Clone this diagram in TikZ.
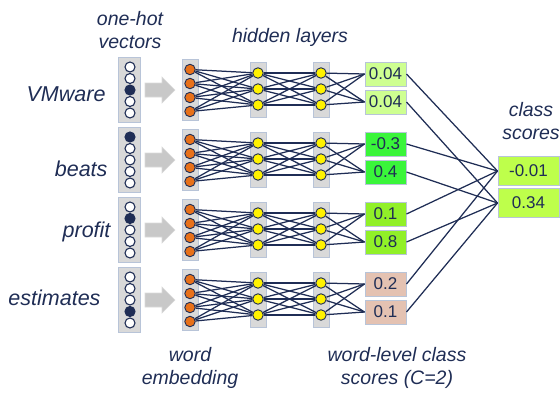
\documentclass[tikz,border=0pt]{standalone}
\usepackage{fontspec}
\setmainfont{Liberation Sans}
\usetikzlibrary{positioning}

\definecolor{ink}{RGB}{31,45,85}
\definecolor{colbg}{RGB}{217,217,217}
\definecolor{colrim}{RGB}{184,196,216}
\definecolor{embfill}{RGB}{232,113,26}
\definecolor{arrowgray}{RGB}{200,200,200}
\definecolor{scpale}{RGB}{206,255,145}
\definecolor{scbright}{RGB}{58,245,58}
\definecolor{scmid}{RGB}{145,240,40}
\definecolor{scsalmon}{RGB}{228,194,178}
\definecolor{sclime}{RGB}{190,255,75}

\tikzset{
  col/.style={draw=colrim, fill=colbg, line width=1pt},
  onehot/.style={circle, draw=ink, fill=white, line width=1.1pt, inner sep=0pt, minimum size=10pt},
  hot/.style={onehot, fill=ink},
  emb/.style={circle, draw=ink, fill=embfill, line width=0.9pt, inner sep=0pt, minimum size=10.5pt},
  hid/.style={emb, fill=yellow},
  score/.style={draw=colrim, line width=1pt, minimum width=41pt, minimum height=24pt, inner sep=0pt,
    text=ink, font=\fontsize{17}{17}\selectfont},
  headtext/.style={text=ink, align=center, font=\fontsize{19.5}{23}\selectfont\itshape},
  wordtext/.style={text=ink, anchor=base east, font=\fontsize{21.5}{24}\selectfont\itshape},
  wire/.style={draw=ink, line width=1.25pt},
  arrowbody/.style={fill=arrowgray, draw=colbg, line width=0.6pt},
}

\begin{document}
\begin{tikzpicture}[x=1pt,y=-1pt]
  \useasboundingbox (0,0) rectangle (560,394);

  % headings
  \node[headtext] (tOneHot) at (130,30) {one-hot\\vectors};
  \node[headtext] (tHidden) at (290,37) {hidden layers};
  \node[headtext] (tClass) at (531,121) {class\\scores};
  \node[headtext] (tEmb) at (190,368) {word\\embedding};
  \node[headtext] (tLevel) at (397,368) {word-level class\\scores (C=2)};

  % words
  \node[wordtext] (wVM) at (109,101) {VMware};
  \node[wordtext] (wBeats) at (111,176) {beats};
  \node[wordtext] (wProfit) at (114,237) {profit};
  \node[wordtext] (wEst) at (104,305) {estimates};

  % sentence-level class scores
  \node[score, fill=sclime, minimum width=61pt, minimum height=29pt] (cls1) at (528.5,171) {-0.01};
  \node[score, fill=sclime, minimum width=61pt, minimum height=29pt, below=2pt of cls1] (cls2) {0.34};

  % one network per word
  \foreach \r/\hot/\sa/\sb/\sc in {0/3/0.04/0.04/scpale, 1/1/-0.3/0.4/scbright,
                                   2/2/0.1/0.8/scmid, 3/4/0.2/0.1/scsalmon}{
    \begin{scope}[shift={(0,70*\r)}]
      \node[col, minimum width=22pt, minimum height=65pt] (ohbox\r) at (129.5,89.5) {};
      \foreach \i in {1,...,5}{
        \ifnum\i=\hot \def\dotstyle{hot}\else\def\dotstyle{onehot}\fi
        \node[\dotstyle] (oh\r-\i) at (130,{90+(\i-3)*11.5}) {};
      }
      \draw[arrowbody] (145,83) -- (162,83) -- (162,77) -- (175,90)
        -- (162,103) -- (162,97) -- (145,97) -- cycle;

      \node[col, minimum width=16pt, minimum height=61pt] (embbox\r) at (190,89.5) {};
      \node[col, minimum width=16pt, minimum height=55pt] (hAbox\r) at (258,89.5) {};
      \node[col, minimum width=16pt, minimum height=55pt] (hBbox\r) at (321,89.5) {};
      \foreach \i in {1,...,4}
        \node[emb] (emb\r-\i) at (190,{90.5+(\i-2.5)*14}) {};
      \foreach \i in {1,2,3}{
        \node[hid] (hA\r-\i) at (258,{89+(\i-2)*16}) {};
        \node[hid] (hB\r-\i) at (321,{89+(\i-2)*16}) {};
      }

      \node[score, fill=\sc] (sc\r-1) at (385.5,74) {\sa};
      \node[score, fill=\sc, below=3pt of sc\r-1] (sc\r-2) {\sb};

      \foreach \i in {1,...,4}
        \foreach \j in {1,2,3}
          \draw[wire] (emb\r-\i) -- (hA\r-\j);
      \foreach \i in {1,2,3}{
        \foreach \j in {1,2,3}
          \draw[wire] (hA\r-\i) -- (hB\r-\j);
        \draw[wire] (hB\r-\i) -- (sc\r-1.west);
        \draw[wire] (hB\r-\i) -- (sc\r-2.west);
      }
    \end{scope}
    \draw[wire] (sc\r-1.east) -- (cls1.west);
    \draw[wire] (sc\r-2.east) -- (cls2.west);
  }
\end{tikzpicture}
\end{document}
